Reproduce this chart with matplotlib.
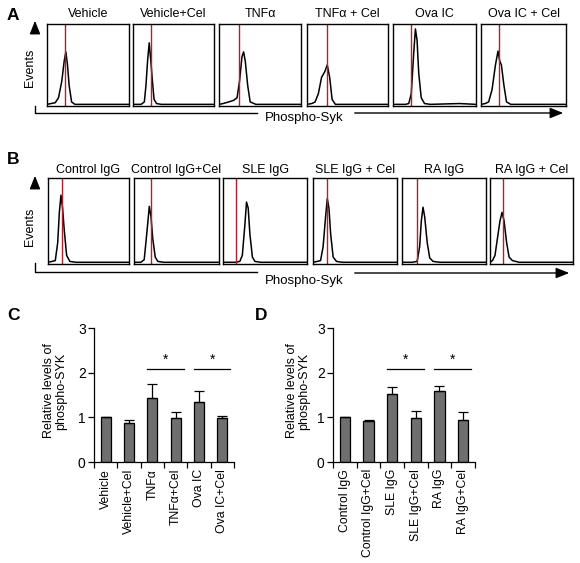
import matplotlib
matplotlib.use("Agg")
import matplotlib.pyplot as plt
import numpy as np

plt.rcParams['font.family'] = ['Liberation Sans', 'DejaVu Sans']

W, H = 580, 563

# ---------------- data ----------------
titles_a = ["Vehicle", "Vehicle+Cel", "TNF\u03b1", "TNF\u03b1 + Cel", "Ova IC", "Ova IC + Cel"]
titles_b = ["Control IgG", "Control IgG+Cel", "SLE IgG", "SLE IgG + Cel", "RA IgG", "RA IgG + Cel"]

# histogram outlines (x: fraction of box width, y: fraction of box height)
hist_a_x = [
    [0, 0.05, 0.10, 0.14, 0.18, 0.21, 0.23, 0.25, 0.27, 0.30, 0.34, 0.6, 1.0],
    [0, 0.10, 0.14, 0.16, 0.18, 0.20, 0.22, 0.24, 0.26, 0.29, 0.35, 0.6, 1.0],
    [0, 0.05, 0.12, 0.18, 0.22, 0.25, 0.28, 0.30, 0.32, 0.35, 0.38, 0.45, 1.0],
    [0, 0.06, 0.10, 0.14, 0.18, 0.22, 0.25, 0.28, 0.31, 0.35, 0.6, 1.0],
    [0, 0.15, 0.19, 0.22, 0.25, 0.27, 0.29, 0.31, 0.34, 0.38, 0.45, 0.8, 1.0],
    [0, 0.05, 0.09, 0.13, 0.17, 0.20, 0.22, 0.24, 0.27, 0.30, 0.35, 0.7, 1.0],
]
hist_a_y = [
    [0.02, 0.03, 0.04, 0.10, 0.30, 0.55, 0.66, 0.50, 0.25, 0.05, 0.02, 0.02, 0.02],
    [0.02, 0.02, 0.05, 0.25, 0.55, 0.77, 0.55, 0.30, 0.08, 0.03, 0.02, 0.02, 0.02],
    [0.02, 0.03, 0.05, 0.07, 0.10, 0.30, 0.60, 0.66, 0.55, 0.25, 0.05, 0.02, 0.02],
    [0.02, 0.03, 0.05, 0.15, 0.35, 0.42, 0.50, 0.35, 0.08, 0.02, 0.02, 0.02],
    [0.02, 0.02, 0.03, 0.15, 0.65, 0.94, 0.80, 0.40, 0.10, 0.03, 0.02, 0.03, 0.02],
    [0.02, 0.03, 0.05, 0.20, 0.50, 0.67, 0.55, 0.50, 0.25, 0.05, 0.02, 0.02, 0.02],
]
hist_b_x = [
    [0, 0.05, 0.09, 0.12, 0.14, 0.16, 0.18, 0.20, 0.23, 0.27, 0.35, 0.7, 1.0],
    [0, 0.08, 0.12, 0.15, 0.18, 0.20, 0.22, 0.25, 0.28, 0.35, 0.7, 1.0],
    [0, 0.15, 0.20, 0.23, 0.26, 0.28, 0.30, 0.32, 0.35, 0.38, 0.45, 0.7, 1.0],
    [0, 0.05, 0.09, 0.12, 0.15, 0.17, 0.19, 0.21, 0.24, 0.28, 0.35, 0.7, 1.0],
    [0, 0.12, 0.18, 0.21, 0.23, 0.25, 0.27, 0.30, 0.33, 0.37, 0.45, 0.7, 1.0],
    [0, 0.03, 0.06, 0.09, 0.12, 0.145, 0.17, 0.20, 0.23, 0.27, 0.35, 0.7, 1.0],
]
hist_b_y = [
    [0.02, 0.03, 0.04, 0.25, 0.60, 0.80, 0.65, 0.40, 0.10, 0.03, 0.02, 0.02, 0.02],
    [0.02, 0.02, 0.05, 0.35, 0.67, 0.55, 0.30, 0.08, 0.03, 0.02, 0.02, 0.02],
    [0.02, 0.02, 0.03, 0.10, 0.45, 0.72, 0.65, 0.35, 0.08, 0.03, 0.02, 0.02, 0.02],
    [0.02, 0.03, 0.04, 0.20, 0.55, 0.76, 0.65, 0.35, 0.08, 0.03, 0.02, 0.02, 0.02],
    [0.02, 0.02, 0.03, 0.20, 0.50, 0.66, 0.55, 0.25, 0.07, 0.03, 0.02, 0.02, 0.02],
    [0.02, 0.04, 0.10, 0.30, 0.50, 0.60, 0.50, 0.25, 0.08, 0.04, 0.02, 0.02, 0.02],
]
redline_a = [0.22, 0.22, 0.24, 0.25, 0.22, 0.21]
redline_b = [0.17, 0.20, 0.155, 0.17, 0.18, 0.16]

cats_c = ["Vehicle", "Vehicle+Cel", "TNF\u03b1", "TNF\u03b1+Cel", "Ova IC", "Ova IC+Cel"]
vals_c = [1.00, 0.87, 1.43, 0.98, 1.34, 0.98]
errs_c = [0.00, 0.06, 0.32, 0.14, 0.24, 0.04]
sig_c = [(2, 3), (4, 5)]

cats_d = ["Control IgG", "Control IgG+Cel", "SLE IgG", "SLE IgG+Cel", "RA IgG", "RA IgG+Cel"]
vals_d = [1.00, 0.92, 1.52, 0.98, 1.59, 0.94]
errs_d = [0.00, 0.03, 0.16, 0.16, 0.11, 0.18]
sig_d = [(2, 3), (4, 5)]

# ---------------- layout helpers ----------------
fig = plt.figure(figsize=(W / 100, H / 100), dpi=100)
fig.patch.set_facecolor("white")


def px_axes(x0, y0, x1, y1):
    return fig.add_axes([x0 / W, 1 - y1 / H, (x1 - x0) / W, (y1 - y0) / H])


def ftext(x, y, s, **kw):
    fig.text(x / W, 1 - y / H, s, **kw)


def fline(xs, ys, **kw):
    fig.add_artist(plt.Line2D([x / W for x in xs], [1 - y / H for y in ys],
                              transform=fig.transFigure, **kw))


def farrow(x0, y0, x1, y1):
    fig.add_artist(matplotlib.patches.FancyArrowPatch(
        (x0 / W, 1 - y0 / H), (x1 / W, 1 - y1 / H), transform=fig.transFigure,
        arrowstyle="-|>,head_length=5,head_width=2", mutation_scale=1.6,
        color="black", lw=1.0))


def hist_row(boxes, top, bottom, titles, xs_list, ys_list, reds, title_y):
    for (x0, x1), t, xs, ys, r in zip(boxes, titles, xs_list, ys_list, reds):
        ax = px_axes(x0, top, x1, bottom)
        ax.plot(xs, ys, color="black", lw=1.1)
        ax.axvline(r, color="#b0202a", lw=1.0)
        ax.set_xlim(0, 1)
        ax.set_ylim(0, 1)
        ax.set_xticks([])
        ax.set_yticks([])
        for sp in ax.spines.values():
            sp.set_linewidth(1.0)
        ftext((x0 + x1) / 2, title_y, t, ha="center", va="center", fontsize=9)


# ---------------- panel A ----------------
boxes_a = [(47, 129), (133, 214), (219, 301), (307, 388), (393, 476), (481, 566)]
hist_row(boxes_a, 24, 106, titles_a, hist_a_x, hist_a_y, redline_a, 14)
ftext(7, 15, "A", fontsize=12.5, fontweight="bold", ha="left", va="center")
ftext(30, 68, "Events", rotation=90, fontsize=9, ha="center", va="center")
farrow(35, 33, 35, 18)
fline([35, 35, 257], [106, 113, 113], color="black", lw=1.0)
ftext(304, 118, "Phospho-Syk", fontsize=9.5, ha="center", va="center")
farrow(352, 113, 566, 113)

# ---------------- panel B ----------------
boxes_b = [(48, 129), (134, 219), (223, 307), (313, 397), (402, 486), (490, 573)]
hist_row(boxes_b, 178, 264, titles_b, hist_b_x, hist_b_y, redline_b, 170)
ftext(7, 160, "B", fontsize=12.5, fontweight="bold", ha="left", va="center")
ftext(30, 227, "Events", rotation=90, fontsize=9, ha="center", va="center")
farrow(35, 188, 35, 173)
fline([35, 35, 257], [263, 272, 272], color="black", lw=1.0)
ftext(304, 281, "Phospho-Syk", fontsize=9.5, ha="center", va="center")
farrow(352, 273, 572, 273)


# ---------------- bar panels ----------------
def bar_panel(x0, x1, cats, vals, errs, sigs):
    ax = px_axes(x0, 328, x1, 462)
    n = len(cats)
    idx = np.arange(n)
    ax.bar(idx, vals, width=0.44, color="#6f6f6f", edgecolor="black", lw=0.9, zorder=2)
    ax.errorbar(idx, vals, yerr=[np.zeros(n), errs], fmt="none", ecolor="black",
                elinewidth=0.9, capsize=3.5, capthick=0.9, zorder=3)
    ax.set_xlim(-0.5, n - 0.5)
    ax.set_ylim(0, 3)
    ax.set_yticks([0, 1, 2, 3])
    ax.set_xticks(np.arange(-0.5, n, 1.0))
    ax.set_xticklabels([])
    ax.set_xticks(idx, minor=True)
    ax.set_xticklabels(cats, minor=True, rotation=90, fontsize=8.8)
    ax.tick_params(axis="x", which="minor", length=0, pad=5)
    ax.tick_params(axis="x", which="major", length=4, width=0.9, direction="out")
    ax.tick_params(axis="y", length=4, width=0.9, labelsize=10, pad=2)
    for s in ["top", "right"]:
        ax.spines[s].set_visible(False)
    for s in ["left", "bottom"]:
        ax.spines[s].set_linewidth(0.9)
    for i, j in sigs:
        ax.plot([i - 0.22, j + 0.34], [2.09, 2.09], color="black", lw=0.9, clip_on=False)
        ax.text((i + j) / 2 + 0.06, 2.13, "*", ha="center", va="bottom", fontsize=10)
    return ax


bar_panel(94, 234, cats_c, vals_c, errs_c, sig_c)
bar_panel(333, 475, cats_d, vals_d, errs_d, sig_d)

ftext(7, 315, "C", fontsize=12.5, fontweight="bold", ha="left", va="center")
ftext(255, 315, "D", fontsize=12.5, fontweight="bold", ha="left", va="center")
ftext(55, 391, "Relative levels of\nphospho-SYK", rotation=90, fontsize=9,
      ha="center", va="center", linespacing=1.1)
ftext(298, 391, "Relative levels of\nphospho-SYK", rotation=90, fontsize=9,
      ha="center", va="center", linespacing=1.1)

fig.savefig("out.png", dpi=100, facecolor="white")
